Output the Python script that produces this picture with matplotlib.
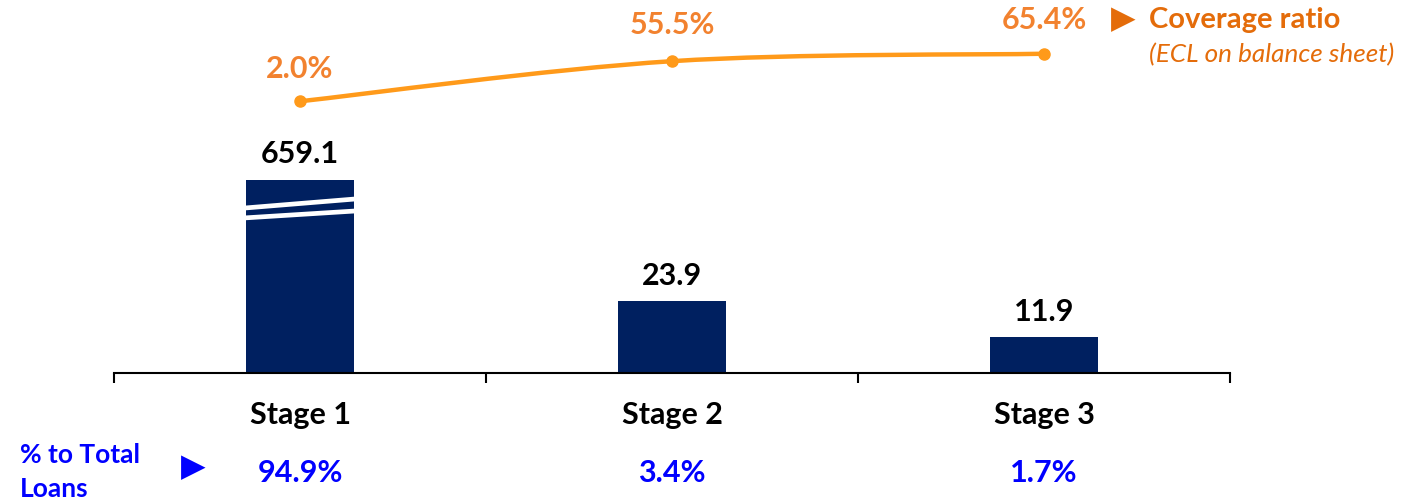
"""Stage 1/2/3 loans with ECL coverage ratio."""

import matplotlib.pyplot as plt
from matplotlib.path import Path
from matplotlib.patches import PathPatch
from matplotlib.transforms import blended_transform_factory

stages = ["Stage 1", "Stage 2", "Stage 3"]
loans = [659.1, 23.9, 11.9]
share_of_total = ["94.9%", "3.4%", "1.7%"]
coverage = [2.0, 55.5, 65.4]

NAVY = "#002060"
LINE = "#FF9A1A"
LABEL_ORANGE = "#F2822F"
DARK_ORANGE = "#E46C0A"
BLUE = "#0000FF"
BREAK_HEIGHT = 64.5  # stage 1 bar is drawn cut off at this height

plt.rcParams["font.family"] = ["Lato", "DejaVu Sans"]


def smooth_path(xs, ys):
    # catmull-rom style bezier through the points (like Excel "smoothed line")
    pts = list(zip(xs, ys))
    verts = [pts[0]]
    codes = [Path.MOVETO]
    for i in range(len(pts) - 1):
        p0 = pts[i - 1] if i > 0 else pts[i]
        p1, p2 = pts[i], pts[i + 1]
        p3 = pts[i + 2] if i + 2 < len(pts) else pts[i + 1]
        c1 = (p1[0] + (p2[0] - p0[0]) / 6, p1[1] + (p2[1] - p0[1]) / 6)
        c2 = (p2[0] - (p3[0] - p1[0]) / 6, p2[1] - (p3[1] - p1[1]) / 6)
        verts += [c1, c2, p2]
        codes += [Path.CURVE4] * 3
    return Path(verts, codes)


def main() -> None:
    fig = plt.figure(figsize=(14.07, 5.02), dpi=100)
    ax = fig.add_axes([114 / 1407, 128 / 502, 1116 / 1407, 374 / 502])
    x = list(range(len(stages)))

    heights = [min(v, BREAK_HEIGHT) for v in loans]
    ax.bar(x, heights, width=0.29, color=NAVY, zorder=2)
    # white break marks on the truncated bar
    for y0, y1 in ((55.0, 58.0), (51.7, 54.0)):
        ax.plot([-0.148, 0.148], [y0, y1], color="white", lw=3.4, zorder=3,
                solid_capstyle="butt")

    for xi, h, v in zip(x, heights, loans):
        ax.annotate(f"{v:.1f}", (xi, h), xytext=(0, 19), textcoords="offset points",
                    ha="center", va="center", fontsize=22, fontweight="bold", color="black")

    ax.set_xlim(-0.5, 2.5)
    ax.set_ylim(0, 374 / 3)
    for side in ("top", "right", "left"):
        ax.spines[side].set_visible(False)
    ax.spines["bottom"].set_linewidth(1.5)
    ax.set_yticks([])
    ax.set_xticks([-0.5, 0.5, 1.5, 2.5])
    ax.set_xticklabels([])
    ax.tick_params(axis="x", direction="out", length=7, width=1.5)

    tr = blended_transform_factory(ax.transData, ax.transAxes)
    for xi, name, share in zip(x, stages, share_of_total):
        ax.text(xi, -0.11, name, transform=tr, ha="center", va="center",
                fontsize=22, fontweight="bold", color="black")
        ax.text(xi, -0.266, share, transform=tr, ha="center", va="center",
                fontsize=22, fontweight="bold", color=BLUE)

    fig.text(20 / 1407, 1 - 455 / 502, "% to Total", ha="left", va="center",
             fontsize=19, fontweight="bold", color=BLUE)
    fig.text(20 / 1407, 1 - 489 / 502, "Loans", ha="left", va="center",
             fontsize=19, fontweight="bold", color=BLUE)
    fig.text(193 / 1407, 1 - 468 / 502, "▶", ha="center", va="center",
             fontsize=23, color=BLUE, family="DejaVu Sans")

    # coverage ratio on its own scale
    ax2 = ax.twinx()
    ax2.set_ylim(-360.3, 138.4)
    ax2.axis("off")
    ax2.add_patch(PathPatch(smooth_path(x, coverage), facecolor="none",
                            edgecolor=LINE, lw=3.2, zorder=3))
    ax2.plot(x, coverage, "o", color=LINE, ms=8, zorder=4)
    offsets = [24, 27, 25]
    for xi, c, off in zip(x, coverage, offsets):
        ax2.annotate(f"{c:.1f}%", (xi, c), xytext=(0, off), textcoords="offset points",
                     ha="center", va="center", fontsize=22, fontweight="bold",
                     color=LABEL_ORANGE)

    fig.text(1123 / 1407, 1 - 20 / 502, "▶", ha="center", va="center",
             fontsize=23, color=DARK_ORANGE, family="DejaVu Sans")
    fig.text(1149 / 1407, 1 - 20 / 502, "Coverage ratio", ha="left", va="center",
             fontsize=21, fontweight="bold", color=DARK_ORANGE)
    fig.text(1149 / 1407, 1 - 55 / 502, "(ECL on balance sheet)", ha="left", va="center",
             fontsize=18.8, style="italic", color=DARK_ORANGE)

    fig.savefig("out.png", dpi=100)
    plt.close(fig)


if __name__ == "__main__":
    main()
